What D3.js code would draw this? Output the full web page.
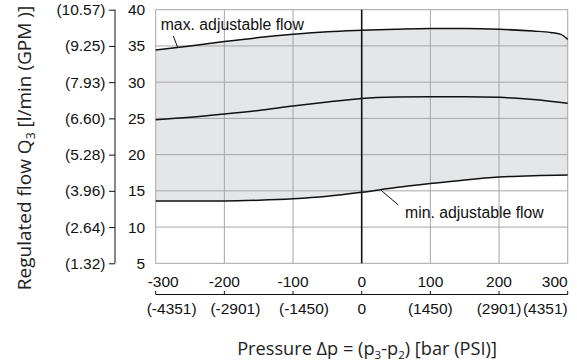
<!DOCTYPE html>
<html><head><meta charset="utf-8">
<script src="https://cdn.jsdelivr.net/npm/d3@7"></script>
<style>
body{margin:0;background:#fff;}
svg{display:block;}
</style></head>
<body>
<svg id="c" width="577" height="363"></svg>
<script>
// ---- data ----
const pressureTicks = [-300,-200,-100,0,100,200,300];
const psiLabels = ["(-4351)","(-2901)","(-1450)","0","(1450)","(2901)","(4351)"];
const flowTicks = [5,10,15,20,25,30,35,40];
const gpmLabels = ["(1.32)","(2.64)","(3.96)","(5.28)","(6.60)","(7.93)","(9.25)","(10.57)"];
const maxX = [-300,-250,-200,-150,-100,-50,0,50,100,150,200,250,275,290,300];
const maxY = [34.45,35.0,35.6,36.15,36.6,36.95,37.15,37.3,37.4,37.4,37.3,37.05,36.85,36.6,35.9];
const midX = [-300,-250,-200,-150,-100,-50,0,50,100,150,200,250,300];
const midY = [24.8,25.15,25.6,26.1,26.7,27.25,27.75,27.95,28.0,28.0,27.9,27.6,27.1];
const minX = [-300,-200,-150,-100,-50,0,50,100,150,200,250,300];
const minY = [13.6,13.6,13.7,13.9,14.25,14.8,15.45,16.0,16.5,16.9,17.1,17.2];
const maxLabel = "max. adjustable flow";
const minLabel = "min. adjustable flow";

// ---- layout ----
const svg = d3.select("#c");
const L = 155.7, R = 567.7, T = 9.7, B = 263.3;
const x = d3.scaleLinear().domain([-300,300]).range([L,R]);
const y = d3.scaleLinear().domain([5,40]).range([B,T]);
const tickFont = "'Liberation Sans', Arial, sans-serif";
const titleFont = "'Open Sans', 'Noto Sans', sans-serif";
const gridCol = "#a6a6a6";

const maxPts = maxX.map((v,i)=>[v,maxY[i]]);
const minPts = minX.map((v,i)=>[v,minY[i]]);
const midPts = midX.map((v,i)=>[v,midY[i]]);
const lineGen = d3.line().x(d=>x(d[0])).y(d=>y(d[1])).curve(d3.curveMonotoneX);
// band between max and min: max forward, min backward
const maxPath = lineGen(maxPts);
const minRevPath = lineGen(minPts.slice().reverse());
svg.append("path")
  .attr("d", maxPath + "L" + minRevPath.slice(1) + "Z")
  .attr("fill","#e5e6e8").attr("stroke","none");

// grid
const grid = svg.append("g");
flowTicks.filter(v=>v>5 && v<40).forEach(v=>{
  grid.append("line").attr("x1",L).attr("x2",R).attr("y1",y(v)).attr("y2",y(v))
    .attr("stroke",gridCol).attr("stroke-width",1);
});
pressureTicks.filter(v=>v!==-300 && v!==300 && v!==0).forEach(v=>{
  grid.append("line").attr("x1",x(v)).attr("x2",x(v)).attr("y1",T).attr("y2",B)
    .attr("stroke",gridCol).attr("stroke-width",1);
});
svg.append("rect").attr("x",L).attr("y",T).attr("width",R-L).attr("height",B-T)
  .attr("fill","none").attr("stroke",gridCol).attr("stroke-width",1);

// zero line
svg.append("line").attr("x1",x(0)).attr("x2",x(0)).attr("y1",T).attr("y2",B)
  .attr("stroke","#111").attr("stroke-width",1.6);

// curves
[maxPts, midPts, minPts].forEach(p=>{
  svg.append("path").attr("d",lineGen(p)).attr("fill","none")
    .attr("stroke","#111").attr("stroke-width",1.5);
});

// annotations
svg.append("text").attr("x",160.7).attr("y",30).attr("font-family",tickFont)
  .attr("font-size",15.8).attr("fill","#111").text(maxLabel);
svg.append("line").attr("x1",173.3).attr("y1",36).attr("x2",x(-268)).attr("y2",y(34.8))
  .attr("stroke","#111").attr("stroke-width",1);
svg.append("text").attr("x",405).attr("y",217.5).attr("font-family",tickFont)
  .attr("font-size",15.8).attr("fill","#111").text(minLabel);
svg.append("line").attr("x1",398.3).attr("y1",205).attr("x2",x(28)).attr("y2",y(15.1))
  .attr("stroke","#111").attr("stroke-width",1);

// y tick labels (l/min)
const yAxisL = d3.axisLeft(y).tickValues(flowTicks).tickSize(0).tickPadding(10.5);
const gy = svg.append("g").attr("transform",`translate(${L},0)`).call(yAxisL);
gy.select(".domain").remove();
gy.selectAll("text").attr("font-family",tickFont).attr("font-size",15.5).attr("fill","#111");

// GPM axis
const gpmAxis = d3.axisLeft(y).tickValues(flowTicks)
  .tickFormat((d,i)=>gpmLabels[i]).tickSize(6).tickPadding(3.5);
const gg = svg.append("g").attr("transform","translate(115,0)").call(gpmAxis);
gg.select(".domain").attr("d",`M0,${y(40)}V${y(5)}`).attr("stroke","#111");
gg.selectAll("line").attr("stroke","#111");
gg.selectAll("text").attr("font-family",tickFont).attr("font-size",15.5).attr("fill","#111");

// x tick labels (bar)
const xl = svg.append("g");
pressureTicks.forEach((v,i)=>{
  const first = i===0, last = i===pressureTicks.length-1;
  xl.append("text").attr("x", first ? x(v)-8 : x(v))
    .attr("y",287).attr("text-anchor", first ? "start" : last ? "end" : "middle")
    .attr("font-family",tickFont).attr("font-size",15.5).attr("fill","#111").text(v);
});
// PSI axis
const ax = svg.append("g").attr("transform","translate(0,294.5)");
ax.append("line").attr("x1",L).attr("x2",R).attr("stroke","#111").attr("stroke-width",1);
pressureTicks.forEach((v,i)=>{
  ax.append("line").attr("x1",x(v)).attr("x2",x(v)).attr("y1",-3.5).attr("y2",0)
    .attr("stroke","#111").attr("stroke-width",1);
  const first = i===0, last = i===pressureTicks.length-1;
  ax.append("text").attr("x", first ? x(v)-9 : last ? x(v) : x(v) + (v<0 ? 11 : 0))
    .attr("y",19).attr("text-anchor", first ? "start" : last ? "end" : "middle")
    .attr("font-family",tickFont).attr("font-size",15.5).attr("fill","#111").text(psiLabels[i]);
});

// x title
const xt = svg.append("text").attr("x",367).attr("y",354.5).attr("text-anchor","middle")
  .attr("font-family",titleFont).attr("font-size",18.2).attr("fill","#222");
xt.append("tspan").text("Pressure Δp = (p");
xt.append("tspan").attr("font-size",11.5).attr("dy",4).text("3");
xt.append("tspan").attr("dy",-4).text("-p");
xt.append("tspan").attr("font-size",11.5).attr("dy",4).text("2");
xt.append("tspan").attr("dy",-4).text(") [bar (PSI)]");

// y title
const yt = svg.append("text").attr("transform","translate(31,148) rotate(-90)")
  .attr("text-anchor","middle").attr("font-family",titleFont).attr("font-size",19).attr("fill","#222");
yt.append("tspan").text("Regulated flow Q");
yt.append("tspan").attr("font-size",12).attr("dy",4).text("3");
yt.append("tspan").attr("dy",-4).text(" [l/min (GPM )]");
</script>
</body></html>
